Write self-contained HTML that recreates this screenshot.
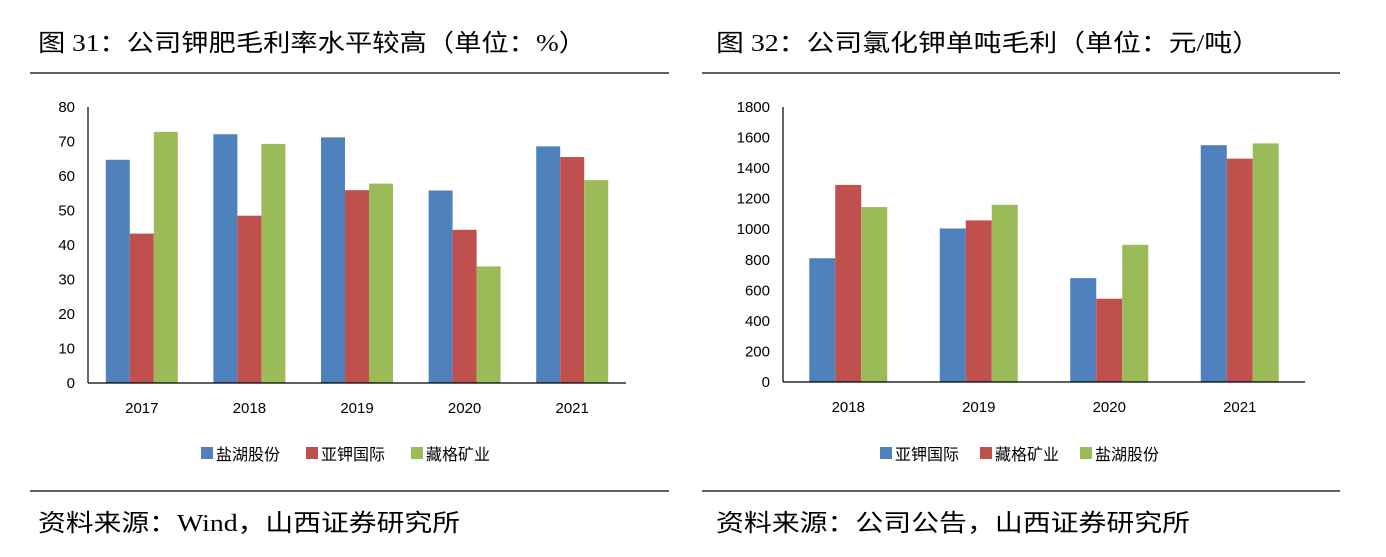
<!DOCTYPE html>
<html><head><meta charset="utf-8"><style>
body{margin:0;background:#fff;}
svg text{font-family:"Liberation Sans","Noto Sans CJK SC",sans-serif;}
.t{font-family:"Liberation Serif","Noto Sans CJK SC",sans-serif;font-size:24px;fill:#000}
.ax{font-size:15px;fill:#000}
.lg{font-size:16px;fill:#000}
</style></head><body>
<svg width="1386" height="552" xmlns="http://www.w3.org/2000/svg">
<text class="t" x="38" y="51" textLength="548" lengthAdjust="spacingAndGlyphs">图 31：公司钾肥毛利率水平较高（单位：%）</text>
<text class="t" x="716" y="51" textLength="544" lengthAdjust="spacingAndGlyphs">图 32：公司氯化钾单吨毛利（单位：元/吨）</text>
<line x1="30" y1="73" x2="669" y2="73" stroke="#000" stroke-width="1.3"/>
<line x1="702" y1="73" x2="1340" y2="73" stroke="#000" stroke-width="1.3"/>
<line x1="30" y1="491" x2="669" y2="491" stroke="#000" stroke-width="1.3"/>
<line x1="702" y1="491" x2="1340" y2="491" stroke="#000" stroke-width="1.3"/>
<text class="t" x="38" y="531" textLength="422" lengthAdjust="spacingAndGlyphs">资料来源：Wind，山西证券研究所</text>
<text class="t" x="716" y="531" textLength="474" lengthAdjust="spacingAndGlyphs">资料来源：公司公告，山西证券研究所</text>
<g id="L"></g><g id="R"></g>
</svg>
<script>
const ns="http://www.w3.org/2000/svg";
const C=["#4F81BD","#C0504D","#9BBB59"];
function el(p,t,a,txt){const e=document.createElementNS(ns,t);for(const k in a)e.setAttribute(k,a[k]);if(txt!==undefined)e.textContent=txt;p.appendChild(e);return e;}
function chart(g,o){
 const y=v=>o.y0-(v/o.max)*(o.y0-o.y1);
 for(let v=0;v<=o.max;v+=o.step){el(g,"text",{class:"ax",x:o.x0-13,y:y(v)+5,"text-anchor":"end"},v);}
 o.data.forEach((d,i)=>{const cx=o.x0+o.cw*(i+0.5);
  d.v.forEach((v,j)=>{const bx=cx-1.5*o.bw+j*o.bw;el(g,"rect",{x:bx,y:y(v),width:o.bw,height:o.y0-y(v),fill:o.col[j]});});
  el(g,"text",{class:"ax",x:cx,y:o.y0+30,"text-anchor":"middle"},d.c);});
 el(g,"line",{x1:o.x0,y1:o.y0,x2:o.x0+o.cw*o.data.length,y2:o.y0,stroke:"#000","stroke-width":1.2});
 el(g,"line",{x1:o.x0,y1:o.y0,x2:o.x0,y2:o.y1,stroke:"#000","stroke-width":1.2});
 o.leg.forEach((n,j)=>{const lx=o.lx+j*o.ld;el(g,"rect",{x:lx,y:447,width:12,height:12,fill:o.col[j]});el(g,"text",{class:"lg",x:lx+15,y:460},n);});
}
chart(document.getElementById("L"),{x0:88,y0:383,y1:107,max:80,step:10,cw:107.6,bw:24,col:C,lx:201,ld:105,
 leg:["盐湖股份","亚钾国际","藏格矿业"],
 data:[{c:2017,v:[64.7,43.3,72.8]},{c:2018,v:[72.1,48.5,69.3]},{c:2019,v:[71.2,55.9,57.8]},{c:2020,v:[55.8,44.4,33.8]},{c:2021,v:[68.6,65.5,58.8]}]});
chart(document.getElementById("R"),{x0:783,y0:382,y1:107,max:1800,step:200,cw:130.5,bw:26,col:C,lx:880,ld:100,
 leg:["亚钾国际","藏格矿业","盐湖股份"],
 data:[{c:2018,v:[810,1290,1145]},{c:2019,v:[1005,1058,1160]},{c:2020,v:[680,545,898]},{c:2021,v:[1550,1462,1562]}]});
</script>
</body></html>
